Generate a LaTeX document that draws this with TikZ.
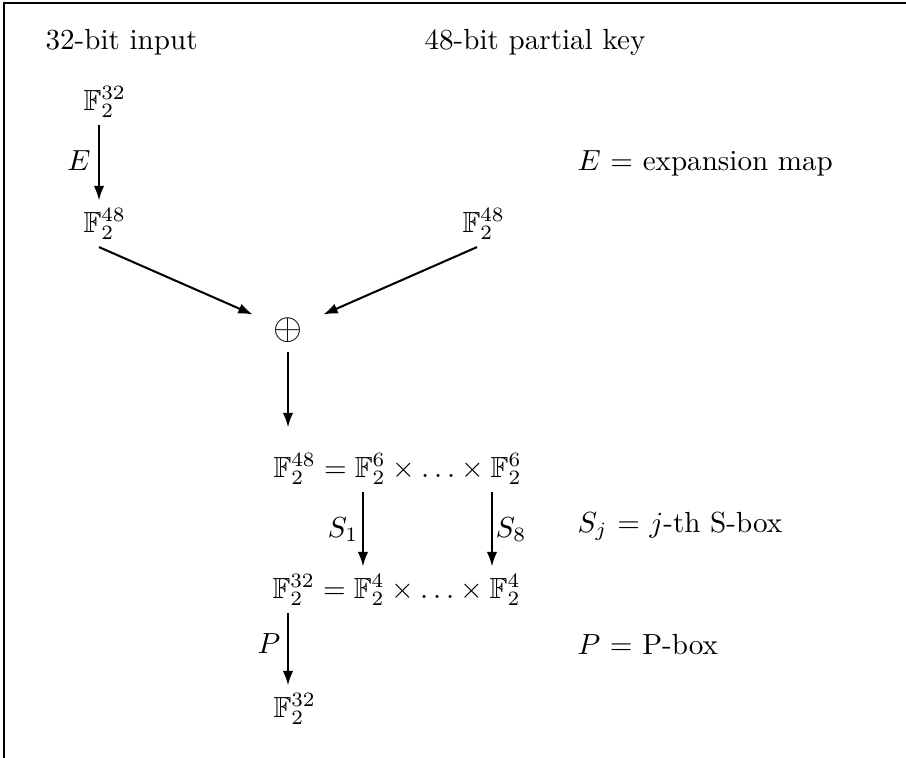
\documentclass[tikz,border=0pt]{standalone}
\usepackage{amsmath,amssymb}
\usetikzlibrary{arrows.meta}
\begin{document}
\begin{tikzpicture}[x=0.34364pt,y=-0.34364pt,
  arr/.style={line width=0.7pt,-{Latex[length=5pt,width=3.6pt]}},
  fld/.style={inner xsep=0pt,inner ysep=2.5pt,anchor=base west},
  txt/.style={inner sep=0pt,anchor=base west},
  lbl/.style={inner sep=0pt}]
\useasboundingbox (0,0) rectangle (906,758);
\draw[line width=0.4pt] (4,758) -- (4,3) -- (906,3);
% top texts
\node[txt] (in32) at (45,49) {32-bit input};
\node[txt] (key48) at (424,49) {48-bit partial key};
% fields
\node[fld] (Fa) at (83,110) {$\mathbb{F}_2^{32}$};
\node[fld] (Fb) at (83,232) {$\mathbb{F}_2^{48}$};
\node[fld] (Fc) at (462,232) {$\mathbb{F}_2^{48}$};
\node[inner sep=0pt] (xor) at (288,330) {\scalebox{1.28}{$\oplus$}};
\node[fld] (r1) at (273,477) {$\mathbb{F}_2^{48} = \mathbb{F}_2^6 \times \ldots \times \mathbb{F}_2^6$};
\node[fld] (r2) at (272,598) {$\mathbb{F}_2^{32} = \mathbb{F}_2^4 \times \ldots \times \mathbb{F}_2^4$};
\node[fld] (Fd) at (273,717) {$\mathbb{F}_2^{32}$};
% x positions of vertical arrows
\coordinate (ex) at (99,0);
\coordinate (kx) at (477,0);
\coordinate (s1x) at (363,0);
\coordinate (s8x) at (492,0);
\coordinate (px) at (288,0);
% arrows
\draw[arr] (Fa.south -| ex) -- (Fb.north -| ex);
\draw[arr,shorten >=13.2pt] (Fb.south -| ex) -- (xor.center);
\draw[arr,shorten >=13.2pt] (Fc.south -| kx) -- (xor.center);
\draw[arr,shorten <=7.6pt,shorten >=6.2pt] (xor.center) -- (r1.north -| xor);
\draw[arr] (r1.south -| s1x) -- (r2.north -| s1x);
\draw[arr] (r1.south -| s8x) -- (r2.north -| s8x);
\draw[arr] (r2.south -| px) -- (Fd.north -| px);
% arrow labels
\node[lbl,anchor=base east] (lE) at (91,170) {$E$};
\node[lbl,anchor=base east] (lS1) at (359,537) {$S_1$};
\node[lbl,anchor=base west] (lS8) at (495,537) {$S_8$};
\node[lbl,anchor=base east] (lP) at (281,653) {$P$};
% legend
\node[txt] (dE) at (577,170) {$E$ = expansion map};
\node[txt] (dS) at (577,532) {$S_j$ = $j$-th S-box};
\node[txt] (dP) at (577,654) {$P$ = P-box};
\end{tikzpicture}
\end{document}
